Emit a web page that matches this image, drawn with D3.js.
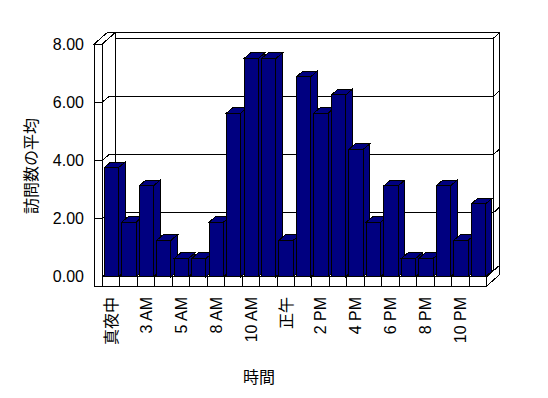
<!DOCTYPE html>
<html>
<head>
<meta charset="utf-8">
<script src="https://cdn.jsdelivr.net/npm/d3@7"></script>
<style>
  body { margin: 0; background: #fff; }
  text { font-family: "Liberation Sans", "Noto Sans CJK JP", sans-serif; font-size: 16px; fill: #000; }
</style>
</head>
<body>
<div id="chart"></div>
<script>
// Data: average visits per hour (2 AM and 7 AM have no entry)
const categories = ["真夜中", "1 AM", "3 AM", "4 AM", "5 AM", "6 AM", "8 AM", "9 AM", "10 AM", "11 AM",
    "正午", "1 PM", "2 PM", "3 PM", "4 PM", "5 PM", "6 PM", "7 PM", "8 PM", "9 PM", "10 PM", "11 PM"];
const visits = [3.75, 1.875, 3.125, 1.25, 0.625, 0.625, 1.875, 5.625, 7.5, 7.5,
    1.25, 6.875, 5.625, 6.25, 4.375, 1.875, 3.125, 0.625, 0.625, 3.125, 1.25, 2.5];
const yTicks = [0, 2, 4, 6, 8];
const yTitle = "訪問数の平均";
const xTitle = "時間";

const width = 548;
const height = 398;

// Plot frame (front plane)
const plotLeft = 102.3, plotRight = 486.7, plotTop = 44, plotBottom = 276.7;
const wallW = 8;        // left wall front thickness
const floorH = 9.3;     // floor front thickness
const depth = [7, -6];  // front plane -> back wall face
const thick = [6, -5.5]; // back wall thickness

const x = d3.scaleBand().domain(categories).range([plotLeft, plotRight]).paddingInner(0).paddingOuter(0);
const y = d3.scaleLinear().domain([0, 8]).range([plotBottom, plotTop]);

// Project a point with depth fraction a and wall thickness fraction b
function P(px, py, a, b) {
    a = a || 0; b = b || 0;
    return [px + a * depth[0] + b * thick[0], py + a * depth[1] + b * thick[1]];
}

const svg = d3.select("#chart").append("svg")
    .attr("width", width)
    .attr("height", height);

const g = svg.append("g").attr("shape-rendering", "crispEdges");

function face(points, fill) {
    g.append("polygon")
        .attr("points", points.map(p => p.join(",")).join(" "))
        .attr("fill", fill)
        .attr("stroke", "#000")
        .attr("stroke-width", 1)
        .attr("stroke-linejoin", "miter");
}

const yFloor = plotBottom + floorH;

// Back wall
face([P(plotLeft, plotTop, 1, 0), P(plotRight, plotTop, 1, 0), P(plotRight, plotBottom, 1, 0), P(plotLeft, plotBottom, 1, 0)], "#fff");
face([P(plotLeft, plotTop, 1, 0), P(plotRight, plotTop, 1, 0), P(plotRight, plotTop, 1, 1), P(plotLeft, plotTop, 1, 1)], "#fff");
face([P(plotRight, plotTop, 1, 0), P(plotRight, plotTop, 1, 1), P(plotRight, plotBottom, 1, 1), P(plotRight, plotBottom, 1, 0)], "#fff");

// Floor
face([[plotLeft, plotBottom], [plotRight, plotBottom], P(plotRight, plotBottom, 1, 0), P(plotLeft, plotBottom, 1, 0)], "#fff");
face([[plotLeft, plotBottom], [plotRight, plotBottom], [plotRight, yFloor], [plotLeft, yFloor]], "#fff");
face([[plotRight, plotBottom], P(plotRight, plotBottom, 1, 1), P(plotRight, yFloor, 1, 1), [plotRight, yFloor]], "#fff");

// Left wall
face([[plotLeft, plotTop], P(plotLeft, plotTop, 1, 1), P(plotLeft, plotBottom, 1, 1), [plotLeft, plotBottom]], "#fff");
face([[plotLeft - wallW, plotTop], [plotLeft, plotTop], P(plotLeft, plotTop, 1, 1), P(plotLeft - wallW, plotTop, 1, 1)], "#fff");
face([[plotLeft - wallW, plotTop], [plotLeft, plotTop], [plotLeft, yFloor], [plotLeft - wallW, yFloor]], "#fff");

// Gridlines
yTicks.filter(d => d > 0 && d < 8).forEach(d => {
    const yy = y(d);
    const pts = [[plotLeft - wallW, yy], [plotLeft, yy], P(plotLeft, yy, 1, 0), P(plotRight, yy, 1, 0), P(plotRight, yy, 1, 1)];
    g.append("polyline")
        .attr("points", pts.map(p => p.join(",")).join(" "))
        .attr("fill", "none")
        .attr("stroke", "#000");
});

// Category dividers on the floor front
categories.slice(1).forEach(c => {
    g.append("line")
        .attr("x1", x(c)).attr("x2", x(c))
        .attr("y1", plotBottom).attr("y2", yFloor)
        .attr("stroke", "#000");
});

// Bars (3D boxes), drawn left to right
const barColor = "#000080";
const barDepth = 0.93;
categories.forEach((c, i) => {
    const x0 = x(c) + 0.11 * x.bandwidth();
    const x1 = x0 + 0.82 * x.bandwidth();
    const yv = y(visits[i]);
    const y0 = y(0);
    face([[x0, yv], [x1, yv], [x1, y0], [x0, y0]], barColor);
    face([[x0, yv], [x1, yv], P(x1, yv, barDepth), P(x0, yv, barDepth)], barColor);
    face([[x1, yv], P(x1, yv, barDepth), P(x1, y0, barDepth), [x1, y0]], barColor);
});

// Y tick labels
svg.selectAll(".y-label")
    .data(yTicks)
    .enter()
    .append("text")
    .attr("class", "y-label")
    .attr("x", 84)
    .attr("y", d => y(d))
    .attr("dy", "0.36em")
    .attr("text-anchor", "end")
    .text(d => d3.format(".2f")(d));

// X tick labels, every other category
svg.selectAll(".x-label")
    .data(categories.filter((c, i) => i % 2 === 0))
    .enter()
    .append("text")
    .attr("class", "x-label")
    .attr("transform", d => `translate(${x(d) + x.bandwidth() / 2},297) rotate(-90)`)
    .attr("dy", "0.36em")
    .attr("text-anchor", "end")
    .text(d => d);

// Axis titles
svg.append("text")
    .attr("transform", "translate(31,166) rotate(-90)")
    .attr("dy", "0.36em")
    .attr("text-anchor", "middle")
    .text(yTitle);

svg.append("text")
    .attr("x", 259)
    .attr("y", 377)
    .attr("dy", "0.36em")
    .attr("text-anchor", "middle")
    .text(xTitle);
</script>
</body>
</html>
